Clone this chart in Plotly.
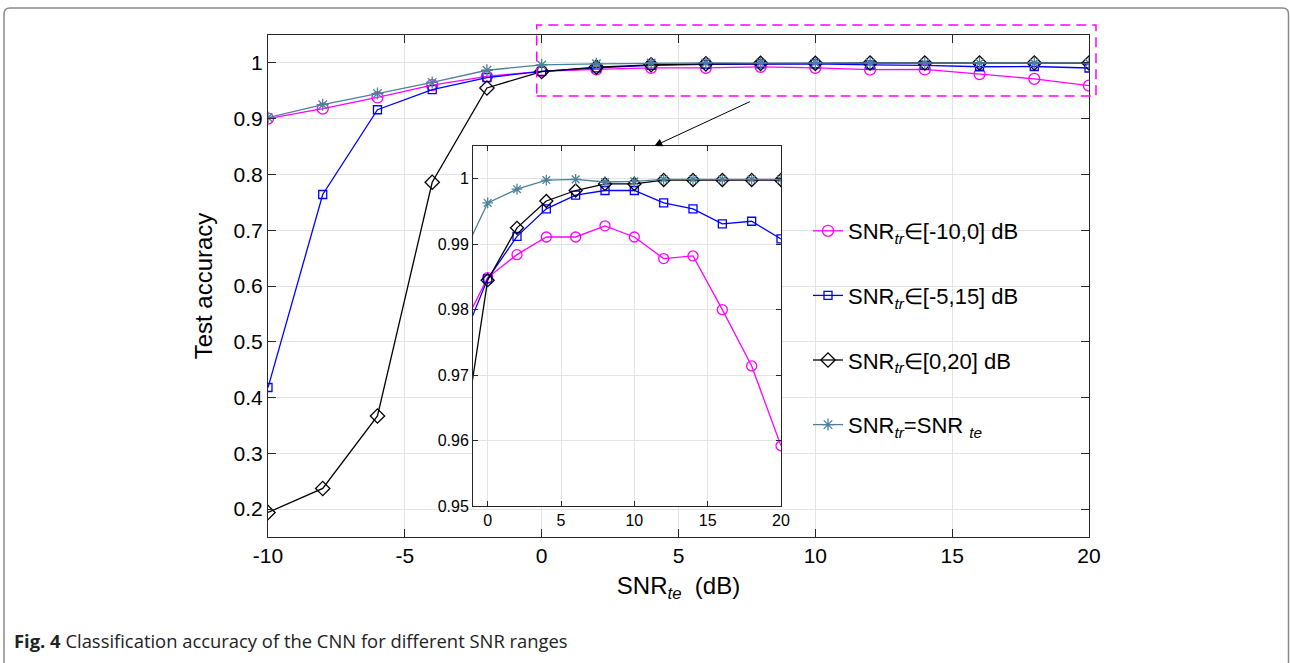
import plotly.graph_objects as go

# ---------------- data ----------------
snr_te = [-10, -8, -6, -4, -2, 0, 2, 4, 6, 8, 10, 12, 14, 16, 18, 20]

acc_m10_0 = [0.900, 0.918, 0.938, 0.960, 0.976, 0.9849, 0.9884, 0.9911, 0.9911,
             0.9928, 0.9911, 0.9878, 0.9882, 0.9800, 0.9714, 0.9592]
acc_m5_15 = [0.418, 0.764, 0.916, 0.952, 0.9737, 0.9847, 0.9912, 0.9954, 0.9975,
             0.9982, 0.9982, 0.9963, 0.9954, 0.9931, 0.9935, 0.9908]
acc_0_20 = [0.194, 0.237, 0.367, 0.786, 0.955, 0.9845, 0.9925, 0.9966, 0.9982,
            0.9992, 0.9992, 0.9998, 0.9998, 0.9998, 0.9998, 0.9998]
acc_match = [0.902, 0.925, 0.945, 0.965, 0.9868, 0.9963, 0.9984, 0.9998, 0.9999,
             0.9995, 0.9996, 0.9999, 0.9999, 0.9999, 0.9999, 0.9999]

series_names = [
    "SNR<sub><i>tr</i></sub>∈[-10,0] dB",
    "SNR<sub><i>tr</i></sub>∈[-5,15] dB",
    "SNR<sub><i>tr</i></sub>∈[0,20] dB",
    "SNR<sub><i>tr</i></sub>=SNR <sub><i>te</i></sub>",
]

main_xticks = [-10, -5, 0, 5, 10, 15, 20]
main_xticktext = ["-10", "-5", "0", "5", "10", "15", "20"]
main_yticks = [0.2, 0.3, 0.4, 0.5, 0.6, 0.7, 0.8, 0.9, 1.0]
main_yticktext = ["0.2", "0.3", "0.4", "0.5", "0.6", "0.7", "0.8", "0.9", "1"]
inset_xticks = [0, 5, 10, 15, 20]
inset_yticks = [0.95, 0.96, 0.97, 0.98, 0.99, 1.0]
inset_yticktext = ["0.95", "0.96", "0.97", "0.98", "0.99", "1"]

caption = "<b>Fig. 4</b> Classification accuracy of the CNN for different SNR ranges"

# ---------------- styles ----------------
colors = ["#FF00FF", "#0000FF", "#000000", "#4D8099"]
symbols = ["circle-open", "square-open", "diamond-open", "asterisk-open"]
main_sizes = [11, 8, 11, 10]
inset_sizes = [10, 8, 10, 9]
series = [acc_m10_0, acc_m5_15, acc_0_20, acc_match]

FONT = "Liberation Sans, Arial, sans-serif"

W, H = 1290, 663
L, R, T, B = 268, 1089, 35, 537  # plot area in pixels


def px(x):
    return (x - L) / (R - L)


def py(y):
    return (B - y) / (B - T)


fig = go.Figure()

for i in range(4):
    fig.add_trace(go.Scatter(
        x=snr_te, y=series[i], mode="lines+markers", name=series_names[i],
        line=dict(color=colors[i], width=1.3),
        marker=dict(symbol=symbols[i], size=main_sizes[i], color=colors[i],
                    line=dict(width=1.3, color=colors[i])),
        xaxis="x", yaxis="y", legendgroup=f"g{i}", showlegend=True,
    ))

for i in range(4):
    fig.add_trace(go.Scatter(
        x=snr_te, y=series[i], mode="lines+markers", name=series_names[i],
        line=dict(color=colors[i], width=1.3),
        marker=dict(symbol=symbols[i], size=inset_sizes[i], color=colors[i],
                    line=dict(width=1.3, color=colors[i])),
        xaxis="x2", yaxis="y2", legendgroup=f"g{i}", showlegend=False,
    ))

axis_common = dict(
    showline=True, linecolor="#262626", linewidth=1, mirror="allticks",
    ticks="inside", tickcolor="#262626", showgrid=True, gridcolor="#e3e3e3",
    gridwidth=1, zeroline=False,
)

fig.update_layout(
    width=W, height=H,
    margin=dict(l=L, r=W - R, t=T, b=H - B, autoexpand=False),
    paper_bgcolor="white", plot_bgcolor="white",
    font=dict(family=FONT, color="black"),
    xaxis=dict(domain=[0, 1], range=[-10, 20], tickvals=main_xticks,
               ticktext=main_xticktext,
               ticklen=8, tickfont=dict(size=21),
               title=dict(text="SNR<sub><i>te</i></sub>  (dB)", font=dict(size=24), standoff=10),
               **axis_common),
    yaxis=dict(domain=[0, 1], range=[0.15, 1.05], tickvals=main_yticks,
               ticktext=main_yticktext, ticklen=8, tickfont=dict(size=21),
               title=dict(text="Test accuracy", font=dict(size=24), standoff=14),
               **axis_common),
    xaxis2=dict(domain=[px(473), px(781)], range=[-1, 20], anchor="y2",
                tickvals=inset_xticks, ticklen=5, tickfont=dict(size=16),
                **axis_common),
    yaxis2=dict(domain=[py(506), py(146)], range=[0.95, 1.005], anchor="x2",
                tickvals=inset_yticks, ticktext=inset_yticktext, ticklen=5,
                tickfont=dict(size=16), **axis_common),
    legend=dict(x=px(808), y=py(210), xanchor="left", yanchor="top",
                bgcolor="rgba(255,255,255,0)", borderwidth=0,
                font=dict(size=22), tracegroupgap=33, itemwidth=30),
    showlegend=True,
)

# outer frame with rounded top corners
x0, x1 = px(4), px(1288.5)
y_top, y_bot = py(8), py(700)
rx = 6 / (R - L)
ry = 6 / (B - T)
frame_path = (f"M {x0},{y_bot} L {x0},{y_top - ry} Q {x0},{y_top} {x0 + rx},{y_top} "
              f"L {x1 - rx},{y_top} Q {x1},{y_top} {x1},{y_top - ry} L {x1},{y_bot}")
fig.add_shape(type="path", path=frame_path, xref="paper", yref="paper",
              line=dict(color="#8a8a8a", width=1.5))

# dashed zoom rectangle
fig.add_shape(type="rect", xref="paper", yref="paper",
              x0=px(536.7), x1=px(1096), y0=py(96), y1=py(25),
              line=dict(color="#FF00FF", width=1.5, dash="10px,6px"))

# arrow from zoom box to inset
fig.add_annotation(xref="paper", yref="paper", x=px(654.3), y=py(146),
                   ax=97, ay=-45, axref="pixel", ayref="pixel", text="",
                   showarrow=True, arrowhead=2, arrowsize=1.6, arrowwidth=1,
                   arrowcolor="black")

# caption
fig.add_annotation(xref="paper", yref="paper", x=px(12), y=py(640),
                   xanchor="left", yanchor="middle", showarrow=False,
                   text=caption, font=dict(family="Open Sans, sans-serif", size=18.4,
                                           color="#222222"))

fig.write_html("out.html", config={"displayModeBar": False},
               post_script="document.body.style.margin='0';document.body.style.overflow='hidden';")
